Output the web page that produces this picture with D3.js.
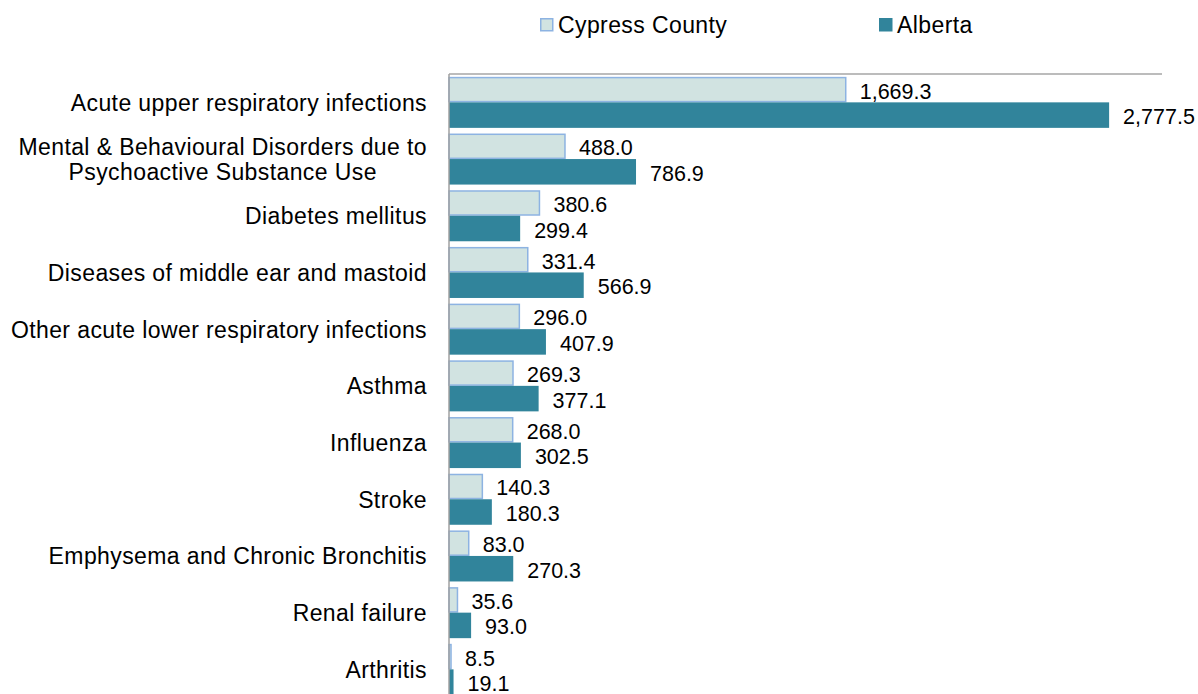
<!DOCTYPE html>
<html>
<head>
<meta charset="utf-8">
<script src="https://cdn.jsdelivr.net/npm/d3@7"></script>
<style>
  body { margin: 0; background: #fff; }
  svg text { font-family: "Liberation Sans", Arial, sans-serif; fill: #000; }
</style>
</head>
<body>
<div id="chart"></div>
<script>
const categories = [
  "Acute upper respiratory infections",
  "Mental & Behavioural Disorders due to\nPsychoactive Substance Use",
  "Diabetes mellitus",
  "Diseases of middle ear and mastoid",
  "Other acute lower respiratory infections",
  "Asthma",
  "Influenza",
  "Stroke",
  "Emphysema and Chronic Bronchitis",
  "Renal failure",
  "Arthritis"
];
const seriesNames = ["Cypress County", "Alberta"];
const cypressValues = [1669.3, 488.0, 380.6, 331.4, 296.0, 269.3, 268.0, 140.3, 83.0, 35.6, 8.5];
const albertaValues = [2777.5, 786.9, 299.4, 566.9, 407.9, 377.1, 302.5, 180.3, 270.3, 93.0, 19.1];

const w = 1198;
const h = 694;
const plotLeft = 449;
const plotRight = 1162;
const plotTop = 74;
const step = 56.7;

const fills = ["#d1e3e1", "#31849b"];
const strokes = ["#8db3e2", "none"];

const rows = categories.map((c, i) => ({
  name: c,
  values: [cypressValues[i], albertaValues[i]]
}));

const xScale = d3.scaleLinear()
  .domain([0, 3000])
  .range([plotLeft, plotRight]);

const yScale = d3.scaleBand()
  .domain(d3.range(categories.length))
  .range([plotTop, plotTop + step * categories.length])
  .paddingInner(0.1)
  .paddingOuter(0.05);

const subScale = d3.scaleBand()
  .domain([0, 1])
  .range([0, yScale.bandwidth()]);

const svg = d3.select("#chart")
  .append("svg")
  .attr("width", w)
  .attr("height", h)
  .style("display", "block");

// bars
const groups = svg.selectAll("g.cat")
  .data(rows)
  .enter()
  .append("g")
  .attr("class", "cat")
  .attr("transform", (d, i) => "translate(0," + yScale(i) + ")");

groups.selectAll("rect")
  .data(d => d.values)
  .enter()
  .append("rect")
  .attr("x", xScale(0))
  .attr("y", (d, j) => subScale(j) + (j === 0 ? 0.75 : 0))
  .attr("width", d => xScale(d) - xScale(0))
  .attr("height", (d, j) => subScale.bandwidth() - (j === 0 ? 1.5 : 0))
  .attr("fill", (d, j) => fills[j])
  .attr("stroke", (d, j) => strokes[j])
  .attr("stroke-width", 1.5);

// value labels
const fmt = d3.format(",.1f");
groups.selectAll("text.val")
  .data(d => d.values)
  .enter()
  .append("text")
  .attr("class", "val")
  .attr("x", d => xScale(d) + 14)
  .attr("y", (d, j) => subScale(j) + subScale.bandwidth() / 2 + 9)
  .style("font-size", "21.5px")
  .text(d => fmt(d));

// top border line
svg.append("line")
  .attr("x1", plotLeft)
  .attr("x2", plotRight)
  .attr("y1", plotTop)
  .attr("y2", plotTop)
  .attr("stroke", "#a6a6a6")
  .attr("stroke-width", 1.5);

// category axis
const yAxis = d3.axisLeft(yScale).tickSize(0).tickFormat("");
const axisG = svg.append("g")
  .attr("transform", "translate(" + plotLeft + ",0)")
  .call(yAxis);
axisG.select(".domain")
  .attr("d", "M0," + plotTop + "V" + (plotTop + step * categories.length))
  .attr("stroke", "#a0a0a0")
  .attr("stroke-width", 1.5);

// category labels, multi-line ones centred as a block
const labelRight = plotLeft - 22;
svg.selectAll("text.cat-label")
  .data(rows)
  .enter()
  .append("text")
  .attr("class", "cat-label")
  .attr("text-anchor", "end")
  .style("font-size", "23px")
  .style("letter-spacing", "0.4px")
  .each(function (d, i) {
    const lines = d.name.split("\n");
    const cy = yScale(i) + yScale.bandwidth() / 2;
    const spans = d3.select(this).selectAll("tspan")
      .data(lines)
      .enter()
      .append("tspan")
      .attr("x", labelRight)
      .attr("y", (l, k) => cy + 8.5 + (k - (lines.length - 1) / 2) * 25.5)
      .text(l => l);
    if (lines.length > 1) {
      const maxW = d3.max(spans.nodes(), n => n.getComputedTextLength());
      d3.select(this).attr("text-anchor", "middle");
      spans.attr("x", labelRight - maxW / 2);
    }
  });

// legend
const legendX = [540, 879];
const legend = svg.append("g").attr("id", "legend");
const items = legend.selectAll("g")
  .data(seriesNames)
  .enter()
  .append("g")
  .attr("transform", (d, i) => "translate(" + legendX[i] + ",18)");
items.append("rect")
  .attr("x", (d, i) => i === 0 ? 0.75 : 0)
  .attr("y", (d, i) => i === 0 ? 0.75 : 0)
  .attr("width", (d, i) => i === 0 ? 12 : 13.5)
  .attr("height", (d, i) => i === 0 ? 12 : 13.5)
  .attr("fill", (d, i) => fills[i])
  .attr("stroke", (d, i) => strokes[i])
  .attr("stroke-width", 1.5);
items.append("text")
  .attr("x", 18)
  .attr("y", 14.5)
  .style("font-size", "23px")
  .style("letter-spacing", "0.4px")
  .text(d => d);
</script>
</body>
</html>
